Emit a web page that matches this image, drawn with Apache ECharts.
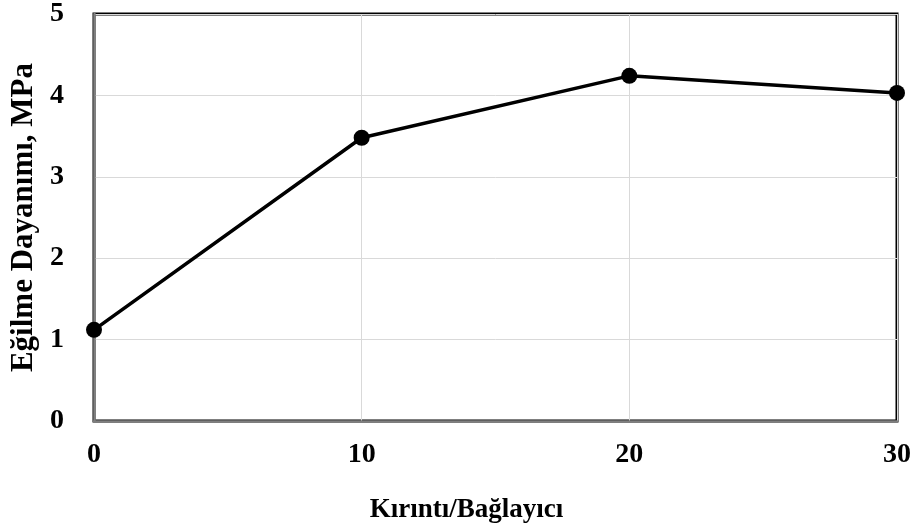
<!DOCTYPE html>
<html>
<head>
<meta charset="utf-8">
<script src="https://cdn.jsdelivr.net/npm/echarts@6/dist/echarts.min.js"></script>
<style>
  html, body { margin: 0; padding: 0; background: #fff; }
  #chart { width: 914px; height: 529px; }
</style>
</head>
<body>
<div id="chart"></div>
<script>
// x values (Kırıntı/Bağlayıcı) and strength values
const ratios = [0, 10, 20, 30];
const strength = [1.12, 3.48, 4.24, 4.03];
const xTicks = [0, 10, 20, 30];
const yTicks = [0, 1, 2, 3, 4, 5];

const font = 'Liberation Serif, Times New Roman, serif';

const chart = echarts.init(document.getElementById('chart'));

const option = {
  animation: false,
  grid: {
    left: 93, right: 16, top: 14, bottom: 105,
    show: true,
    borderColor: '#000',
    borderWidth: 3,
    backgroundColor: '#fff'
  },
  xAxis: {
    type: 'value',
    min: xTicks[0], max: xTicks[xTicks.length - 1], interval: 10,
    name: 'Kırıntı/Bağlayıcı',
    nameLocation: 'middle',
    nameGap: 76,
    // title sits a bit left of the plot centre in the original
    nameTextStyle: { fontFamily: font, fontWeight: 'bold', fontSize: 27, color: '#000', padding: [0, 58, 0, 0] },
    axisLine: { show: true, lineStyle: { color: '#7f7f7f', width: 2.5 } },
    axisTick: { show: false },
    axisLabel: { fontFamily: font, fontWeight: 'bold', fontSize: 28, color: '#000', margin: 20 },
    splitLine: { show: true, lineStyle: { color: '#d9d9d9', width: 1 } }
  },
  yAxis: {
    type: 'value',
    min: yTicks[0], max: yTicks[yTicks.length - 1], interval: 1,
    name: 'Eğilme Dayanımı, MPa',
    nameLocation: 'middle',
    nameGap: 55,
    nameTextStyle: { fontFamily: font, fontWeight: 'bold', fontSize: 31, color: '#000' },
    axisLine: { show: true, lineStyle: { color: '#7f7f7f', width: 2.5 } },
    axisTick: { show: false },
    axisLabel: { fontFamily: font, fontWeight: 'bold', fontSize: 28, color: '#000', margin: 30 },
    splitLine: { show: true, lineStyle: { color: '#d9d9d9', width: 1 } }
  },
  series: [{
    type: 'line',
    data: ratios.map((x, i) => [x, strength[i]]),
    symbol: 'circle',
    symbolSize: 16,
    lineStyle: { color: '#000', width: 3.5 },
    itemStyle: { color: '#000' },
    z: 5
  }]
};

chart.setOption(option);
</script>
</body>
</html>
